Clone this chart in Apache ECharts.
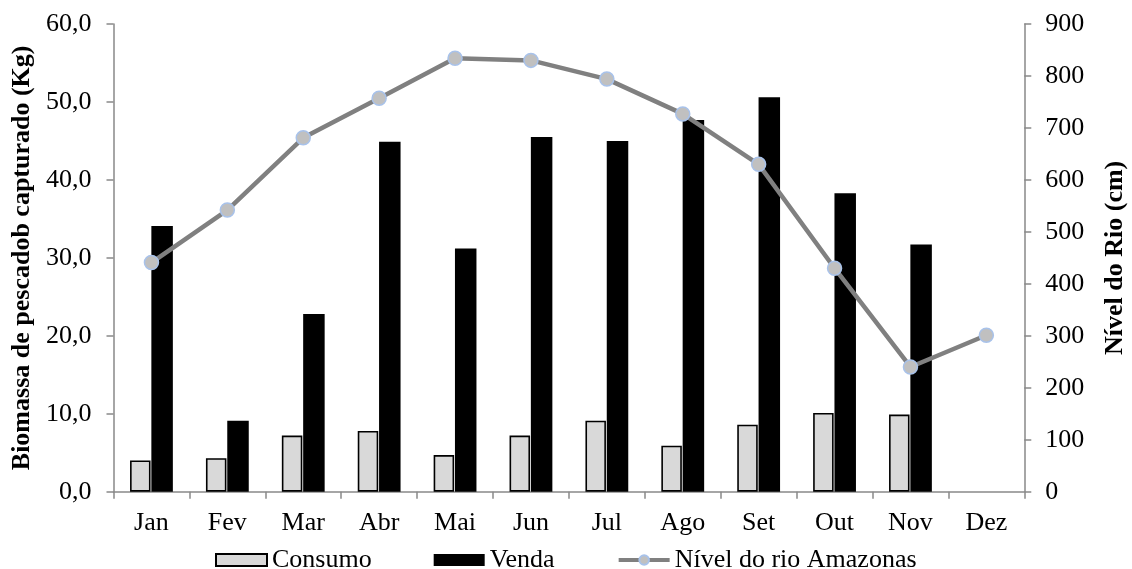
<!DOCTYPE html>
<html>
<head>
<meta charset="utf-8">
<script src="https://cdn.jsdelivr.net/npm/echarts@6/dist/echarts.min.js"></script>
<style>
html,body{margin:0;padding:0;background:#fff;}
#c{width:1132px;height:569px;}
</style>
</head>
<body>
<div id="c"></div>
<script>
var categories = ['Jan','Fev','Mar','Abr','Mai','Jun','Jul','Ago','Set','Out','Nov','Dez'];
var consumo = [4.0, 4.3, 7.2, 7.8, 4.7, 7.2, 9.1, 5.9, 8.6, 10.1, 9.9, null];
var venda = [34.1, 9.1, 22.8, 44.9, 31.2, 45.5, 45.0, 47.7, 50.6, 38.3, 31.7, null];
var nivel = [441, 542, 681, 757, 834, 830, 794, 727, 630, 430, 240, 301];
var leftTicks = {min: 0, max: 60, interval: 10};
var rightTicks = {min: 0, max: 900, interval: 100};

var FONT = '"Liberation Serif", "Times New Roman", serif';
var FS = 26;
var AX = '#898989';
var chart = echarts.init(document.getElementById('c'), null, {renderer: 'canvas'});
chart.setOption({
  animation: false,
  backgroundColor: '#fff',
  textStyle: {fontFamily: FONT, color: '#000'},
  grid: {left: 113.5, right: 107.7, top: 24, bottom: 77.3, containLabel: false, outerBoundsMode: 'none'},
  legend: {
    left: 210, top: 542,
    itemWidth: 51, itemHeight: 12, itemGap: 62,
    textStyle: {fontFamily: FONT, fontSize: FS, color: '#000'},
    data: [
      {name: 'Consumo', icon: 'rect'},
      {name: 'Venda', icon: 'rect'},
      {name: 'Nível do rio Amazonas', lineStyle: {width: 4, color: '#808080'}}
    ]
  },
  xAxis: {
    type: 'category', data: categories,
    axisLine: {lineStyle: {color: AX, width: 1.5}},
    axisTick: {show: true, alignWithLabel: false, length: 7, lineStyle: {color: AX, width: 1.5}},
    axisLabel: {fontFamily: FONT, fontSize: FS, color: '#000', margin: 18}
  },
  yAxis: [
    {
      type: 'value', min: leftTicks.min, max: leftTicks.max, interval: leftTicks.interval,
      name: 'Biomassa de pescadob capturado (Kg)', nameLocation: 'middle', nameGap: 78,
      nameTextStyle: {fontFamily: FONT, fontSize: FS, fontWeight: 'bold', color: '#000'},
      axisLine: {show: true, lineStyle: {color: AX, width: 1.5}},
      axisTick: {show: true, length: 7, lineStyle: {color: AX, width: 1.5}},
      splitLine: {show: false},
      axisLabel: {fontFamily: FONT, fontSize: FS, color: '#000', margin: 22,
        formatter: function(v){ return v.toFixed(1).replace('.', ','); }}
    },
    {
      type: 'value', position: 'right', min: rightTicks.min, max: rightTicks.max, interval: rightTicks.interval,
      name: 'Nível do Rio (cm)', nameLocation: 'middle', nameGap: 78, nameRotate: 90,
      nameTextStyle: {fontFamily: FONT, fontSize: FS, fontWeight: 'bold', color: '#000'},
      axisLine: {show: true, lineStyle: {color: AX, width: 1.5}},
      axisTick: {show: true, length: 7, lineStyle: {color: AX, width: 1.5}},
      splitLine: {show: false},
      axisLabel: {fontFamily: FONT, fontSize: FS, color: '#000', margin: 21}
    }
  ],
  series: [
    {
      name: 'Consumo', type: 'bar', data: consumo, yAxisIndex: 0,
      barWidth: 20.5, barGap: '4%',
      itemStyle: {color: '#d9d9d9', borderColor: '#000', borderWidth: 1.6}
    },
    {
      name: 'Venda', type: 'bar', data: venda, yAxisIndex: 0,
      barWidth: 21.5,
      itemStyle: {color: '#000', borderColor: '#000', borderWidth: 0}
    },
    {
      name: 'Nível do rio Amazonas', type: 'line', data: nivel, yAxisIndex: 1,
      symbol: 'circle', symbolSize: 14,
      lineStyle: {color: '#808080', width: 4.5},
      itemStyle: {color: '#c0c0c0', borderColor: '#a8c2ea', borderWidth: 1.5},
      z: 5
    }
  ]
});
</script>
</body>
</html>
